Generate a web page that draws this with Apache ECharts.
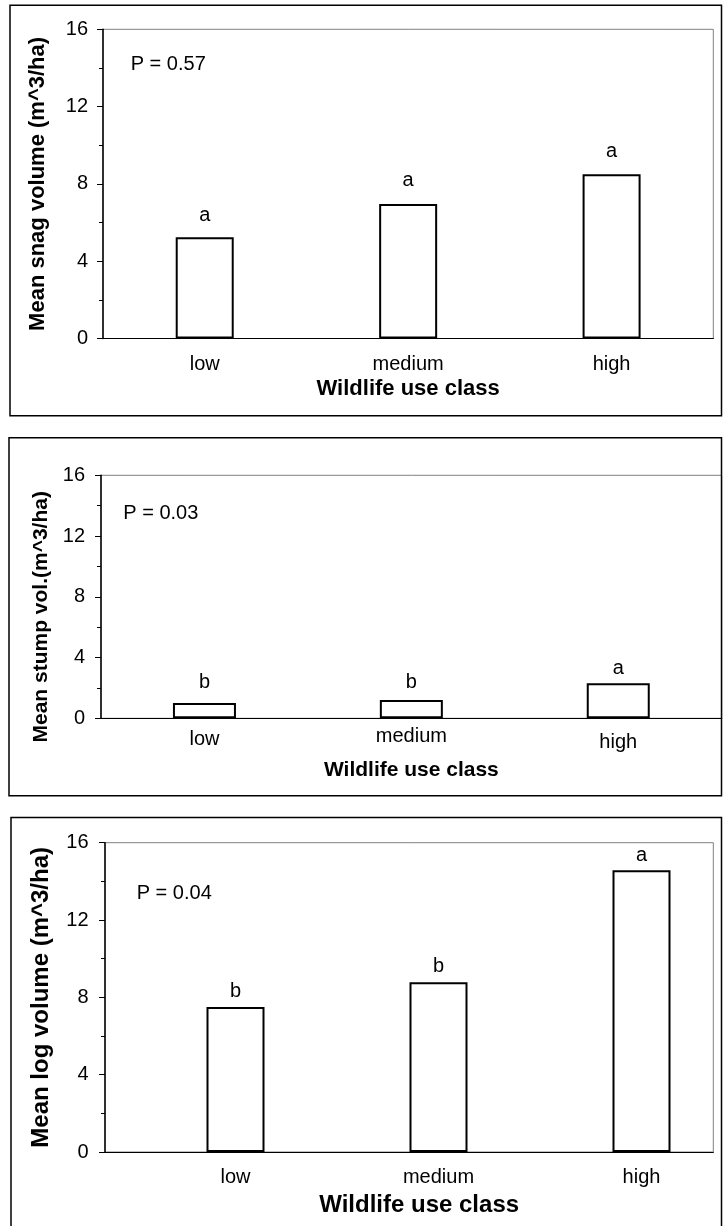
<!DOCTYPE html>
<html>
<head>
<meta charset="utf-8">
<script src="https://cdn.jsdelivr.net/npm/echarts@6/dist/echarts.min.js"></script>
<style>
html,body{margin:0;padding:0;background:#fff;}
#chart{width:723px;height:1226px;}
</style>
</head>
<body>
<div id="chart"></div>
<script>
// ---- data ----
const categories = ['low', 'medium', 'high'];
const snagVolume = [5.24, 6.96, 8.5];
const stumpVolume = [1.0, 1.2, 2.3];
const logVolume = [7.5, 8.78, 14.57];
const snagLetters = ['a', 'a', 'a'];
const stumpLetters = ['b', 'b', 'a'];
const logLetters = ['b', 'b', 'a'];
const pLabels = ['P = 0.57', 'P = 0.03', 'P = 0.04'];
const yTitles = ['Mean snag volume (m^3/ha)', 'Mean stump vol.(m^3/ha)', 'Mean log volume (m^3/ha)'];
const xTitle = 'Wildlife use class';
const yMin = 0, yMax = 16, yStep = 4;

// ---- style ----
const FONT = '"Liberation Sans", Arial, sans-serif';
const chart = echarts.init(document.getElementById('chart'), null, {renderer: 'canvas'});

function yAxisFor(gridIndex, name, nameSize, nameGap, labelMargin, show, namePad) {
  return {
    type: 'value', gridIndex, min: yMin, max: yMax, interval: yStep, show: show,
    name: show ? name : '', nameLocation: 'middle', nameGap: nameGap,
    nameTextStyle: {fontFamily: FONT, fontSize: nameSize, fontWeight: 'bold', color: '#000', padding: namePad || 0},
    axisLine: {show: true, lineStyle: {color: '#000', width: 1.5}},
    axisTick: {show: true, length: 6, lineStyle: {color: '#000', width: 1}},
    minorTick: {show: true, splitNumber: 2, length: 4, lineStyle: {color: '#000', width: 1}},
    splitLine: {show: false},
    axisLabel: {fontFamily: FONT, fontSize: 20, color: '#000', margin: labelMargin}
  };
}
function xAxisFor(gridIndex, opts) {
  return Object.assign({
    type: 'category', gridIndex, data: categories,
    axisLine: {show: true, lineStyle: {color: '#000', width: 1.2}},
    axisTick: {show: false},
    axisLabel: {fontFamily: FONT, fontSize: 20, color: '#000', margin: 16},
    nameLocation: 'middle',
    nameTextStyle: {fontFamily: FONT, fontSize: 22, fontWeight: 'bold', color: '#000'}
  }, opts);
}
function barSeries(xi, yi, values, letters, barW, gaps) {
  return {
    type: 'bar', xAxisIndex: xi, yAxisIndex: yi, barWidth: barW,
    data: values.map((v, i) => ({value: v, label: {distance: gaps[i]}})),
    itemStyle: {color: '#fff', borderColor: '#000', borderWidth: 2},
    label: {show: true, position: 'top', fontFamily: FONT, fontSize: 20, color: '#000',
      formatter: p => letters[p.dataIndex]},
    silent: true, animation: false
  };
}
const gridBase = {show: true, borderColor: '#808080', borderWidth: 1, backgroundColor: 'transparent', outerBoundsMode: 'none', containLabel: false};

const option = {
  backgroundColor: '#fff',
  animation: false,
  grid: [
    Object.assign({left: 103, top: 29.3, width: 610.3, height: 309.2}, gridBase),
    Object.assign({left: 101, top: 475.3, width: 620.7, height: 243}, gridBase),
    Object.assign({left: 105, top: 842.7, width: 608.3, height: 309.3}, gridBase),
    {left: 134, top: 842.7, width: 609, height: 309.3, show: false, outerBoundsMode: 'none', containLabel: false}
  ],
  xAxis: [
    xAxisFor(0, {name: xTitle, nameGap: 39}),
    xAxisFor(1, {
      name: xTitle, nameGap: 41, nameTextStyle: {fontFamily: FONT, fontSize: 21, fontWeight: 'bold', color: '#000'},
      data: categories.map((c, i) => ({value: c, textStyle: {padding: [[3, 0, 0, 0], [0, 0, 0, 0], [6, 0, 0, 0]][i]}})),
      axisLabel: {fontFamily: FONT, fontSize: 20, color: '#000', margin: 8}
    }),
    xAxisFor(2, {name: xTitle, nameGap: 41, axisLabel: {show: false},
      nameTextStyle: {fontFamily: FONT, fontSize: 24, fontWeight: 'bold', color: '#000', padding: [0, 0, 0, 20]}}),
    xAxisFor(3, {axisLine: {show: false}, axisLabel: {fontFamily: FONT, fontSize: 20, color: '#000', margin: 15}})
  ],
  yAxis: [
    yAxisFor(0, yTitles[0], 22, 54, 15, true),
    yAxisFor(1, yTitles[1], 21, 44, 16, true, [0, 40, 0, 0]),
    yAxisFor(2, yTitles[2], 24, 52, 16.5, true),
    yAxisFor(3, '', 20, 0, 0, false)
  ],
  series: [
    barSeries(0, 0, snagVolume, snagLetters, 58, [12, 13.5, 13]),
    barSeries(1, 1, stumpVolume, stumpLetters, 63, [11, 8, 4.5]),
    barSeries(3, 3, logVolume, logLetters, 58, [6, 6, 5])
  ],
  graphic: [
    {type: 'rect', shape: {x: 10, y: 5.3, width: 711.5, height: 410.4}, style: {fill: 'none', stroke: '#000', lineWidth: 1.5}, z: 100},
    {type: 'rect', shape: {x: 9, y: 437.7, width: 712.5, height: 358}, style: {fill: 'none', stroke: '#000', lineWidth: 1.5}, z: 100},
    {type: 'rect', shape: {x: 11, y: 817.5, width: 710.5, height: 420}, style: {fill: 'none', stroke: '#000', lineWidth: 1.5}, z: 100},
    {type: 'text', x: 130.7, y: 64, style: {text: pLabels[0], font: '20px ' + FONT, fill: '#000', textVerticalAlign: 'middle'}, z: 100},
    {type: 'text', x: 123.3, y: 513.3, style: {text: pLabels[1], font: '20px ' + FONT, fill: '#000', textVerticalAlign: 'middle'}, z: 100},
    {type: 'text', x: 136.7, y: 893, style: {text: pLabels[2], font: '20px ' + FONT, fill: '#000', textVerticalAlign: 'middle'}, z: 100}
  ]
};
chart.setOption(option);
</script>
</body>
</html>
